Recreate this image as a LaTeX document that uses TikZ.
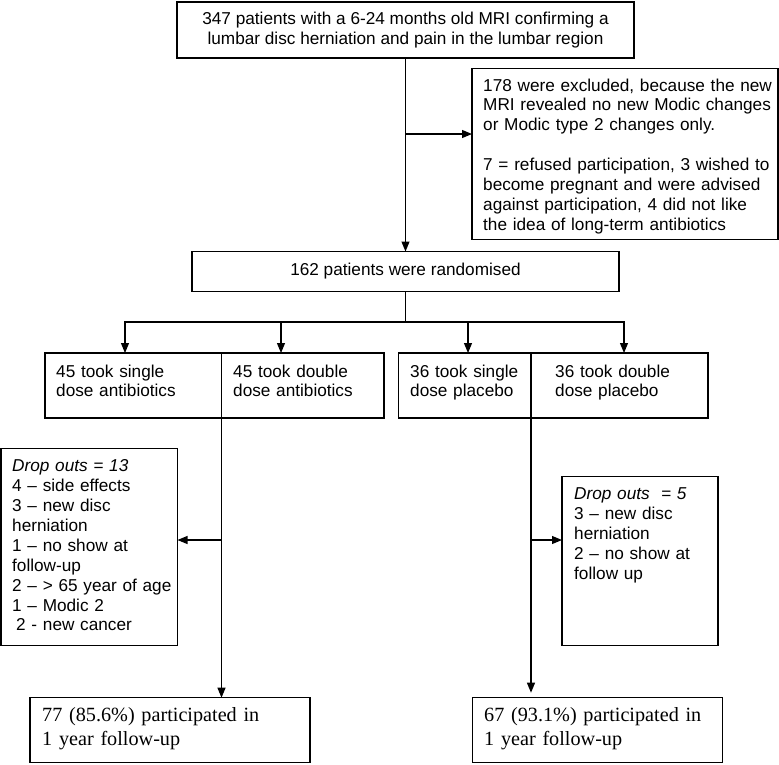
\documentclass[tikz,border=0pt]{standalone}
\usepackage{fontspec}
\setmainfont{Liberation Sans}
\newfontfamily\timesfont{Liberation Serif}
\usetikzlibrary{positioning,calc,arrows.meta}

\tikzset{
  frame/.style={draw, line width=1.1pt, inner sep=0pt, outer sep=0pt, anchor=north west},
  txt/.style={inner sep=0pt, anchor=base west, align=left, text width=300pt,
    font=\fontsize{17.2}{19.9}\selectfont},
  serif/.style={inner sep=0pt, anchor=base west, align=left, text width=300pt,
    font=\timesfont\fontsize{20.2}{23.5}\selectfont},
  link/.style={line width=1.1pt},
  arr/.style={line width=1.1pt, -{Triangle[length=10pt,width=8pt]}}
}

\begin{document}
\begin{tikzpicture}[x=1pt, y=-1pt]
    \useasboundingbox (0,0) rectangle (779,764);

    % screening and randomisation
    \node[frame, minimum width=457, minimum height=56, align=center,
      font=\fontsize{17.2}{19.9}\selectfont] (top) at (177,2)
      {347 patients with a 6-24 months old MRI confirming a\\lumbar disc herniation and pain in the lumbar region};
    \node[frame, minimum width=306, minimum height=171] (excl) at (472,68.5) {};
    \node[txt] (exclt) at ([shift={(11,22.5)}]excl.north west)
      {178 were excluded, because the new\\MRI revealed no new Modic changes\\or Modic type 2 changes only.\\[19.9pt]
       7 = refused participation, 3 wished to\\become pregnant and were advised\\against participation, 4 did not like\\the idea of long-term antibiotics};
    \node[frame, minimum width=427, minimum height=40, font=\fontsize{17.2}{19.9}\selectfont] (rand) at (192,251.5)
      {162 patients were randomised};

    % the four groups
    \node[frame, minimum width=176.5, minimum height=65] (g1) at (45,353) {};
    \node[frame, minimum width=162.5, minimum height=65] (g2) at (221.5,353) {};
    \node[frame, minimum width=132.5, minimum height=65] (g3) at (398.5,353) {};
    \node[frame, minimum width=177, minimum height=65] (g4) at (531,353) {};
    \node[txt] (g1t) at ([shift={(11,24)}]g1.north west) {45 took single\\dose antibiotics};
    \node[txt] (g2t) at ([shift={(11.5,24)}]g2.north west) {45 took double\\dose antibiotics};
    \node[txt] (g3t) at ([shift={(11.5,24)}]g3.north west) {36 took single\\dose placebo};
    \node[txt] (g4t) at ([shift={(24,24)}]g4.north west) {36 took double\\dose placebo};

    % drop outs
    \node[frame, minimum width=176.5, minimum height=196.5] (drop1) at (1,448.7) {};
    \node[txt] (drop1t) at ([shift={(11,23)}]drop1.north west)
      {\textit{Drop outs = 13}\\4 -- side effects\\3 -- new disc\\herniation\\1 -- no show at\\follow-up\\2 -- > 65 year of age\\1 -- Modic 2\\\hspace*{4pt}2 - new cancer};
    \node[frame, minimum width=156, minimum height=168.5] (drop2) at (562,476.7) {};
    \node[txt] (drop2t) at ([shift={(12,23)}]drop2.north west)
      {\textit{Drop outs\ \ = 5}\\3 -- new disc\\herniation\\2 -- no show at\\follow up};

    % follow-up
    \node[frame, minimum width=280, minimum height=65] (out1) at (30,697.7) {};
    \node[serif] (out1t) at ([shift={(12,24)}]out1.north west) {77 (85.6\%) participated in\\1 year follow-up};
    \node[frame, minimum width=250, minimum height=65] (out2) at (472.5,697.7) {};
    \node[serif] (out2t) at ([shift={(11.5,24)}]out2.north west) {67 (93.1\%) participated in\\1 year follow-up};

    % connectors
    \coordinate (exj) at (405.5,134);
    \coordinate (split) at (405.5,322);
    \coordinate (dj1) at (221.5,540);
    \coordinate (dj2) at (531,540);
    \draw[arr] (top.south) -- (rand.north);
    \draw[arr] (exj) -- (exj -| excl.west);
    \draw[link] (rand.south) -- (split);
    \draw[arr] (split) -| ([xshift=80pt]g1.north west);
    \draw[arr] (split) -| ([xshift=59.5pt]g2.north west);
    \draw[arr] (split) -| ([xshift=69.5pt]g3.north west);
    \draw[arr] (split) -| ([xshift=93pt]g4.north west);
    \draw[arr] (g1.south east) -- (g1.south east |- out1.north);
    \draw[arr] (dj1) -- (dj1 -| drop1.east);
    \draw[arr, shorten >=5pt] (g3.south east) -- (g3.south east |- out2.north);
    \draw[arr] (dj2) -- (dj2 -| drop2.west);
\end{tikzpicture}
\end{document}
